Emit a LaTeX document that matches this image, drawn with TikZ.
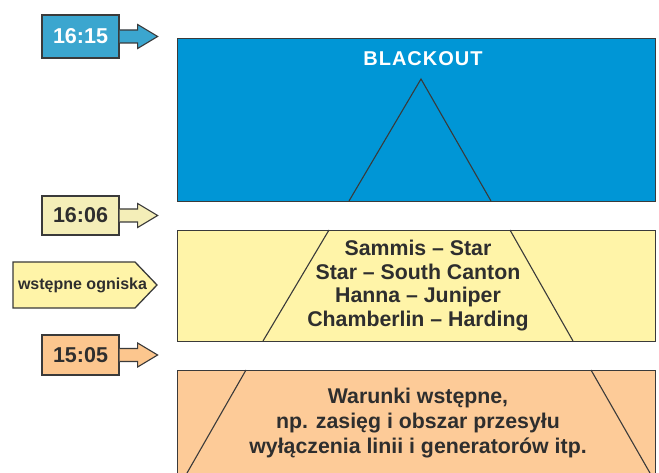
\documentclass[tikz,border=0pt]{standalone}
\usepackage{fontspec}
\setmainfont{Liberation Sans}
\usetikzlibrary{calc}
\definecolor{bigblue}{HTML}{0096D6}
\definecolor{lblblue}{HTML}{3BA6CF}
\definecolor{pyellow}{HTML}{FFF4A8}
\definecolor{lblkhaki}{HTML}{F4EEB8}
\definecolor{porange}{HTML}{FDCB98}
\definecolor{lblorange}{HTML}{FCC68E}
\definecolor{ink}{HTML}{2E2E2E}
\definecolor{edge}{HTML}{3A3A3A}
\tikzset{
  panel/.style={draw=edge, line width=1.3pt, anchor=north west, inner sep=0pt},
  lbl/.style={draw=edge, line width=1.3pt, minimum width=77pt, inner sep=0pt,
    font=\bfseries\fontsize{21.5}{24}\selectfont, text=ink},
  blockarrow/.style={draw=edge, line width=1.1pt, line join=miter},
  inner/.style={draw=edge, line width=1.1pt},
  paneltext/.style={align=center, text=ink, font=\bfseries\fontsize{21.3}{23.8}\selectfont, inner sep=0pt}
}
\newcommand{\blockarr}[2]{%
  \draw[blockarrow, fill=#2] ($(#1.east)+(0,-6.5)$) -- ++(18,0) -- ++(0,-5.5)
    -- ($(#1.east)+(38,0)$) -- ($(#1.east)+(18,12)$) -- ++(0,-5.5) -- ($(#1.east)+(0,6.5)$);}
\begin{document}
\begin{tikzpicture}[x=1pt, y=-1pt]
\useasboundingbox (0,0) rectangle (659,473);
\clip (0,0) rectangle (659,473);
% top panel
\node[panel, fill=bigblue, minimum width=478pt, minimum height=163pt] (blackout) at (177,38) {};
\draw[inner] (349,201) -- (421,79) -- (491,201);
\node[text=white, font=\bfseries\fontsize{20}{22}\selectfont\addfontfeature{LetterSpace=5}] (bt) at (423,59) {BLACKOUT};
% middle panel
\node[panel, fill=pyellow, minimum width=478pt, minimum height=111pt] (mid) at (177,230) {};
\draw[inner] (263,341) -- (329,230);
\draw[inner] (510,230) -- (573,341);
\node[paneltext] (midtext) at (418,285.5) {Sammis -- Star\\Star -- South Canton\\Hanna -- Juniper\\Chamberlin -- Harding};
% bottom panel
\node[panel, fill=porange, minimum width=478pt, minimum height=120pt] (low) at (177,370) {};
\draw[inner] (246,370) -- (183,480);
\draw[inner] (591,370) -- (654,480);
\node[paneltext, font=\bfseries\fontsize{21.3}{25}\selectfont] (lowtext) at (418,423) {Warunki wstępne,\\np. zasięg i obszar przesyłu\\wyłączenia linii i generatorów itp.};
% labels
\node[lbl, fill=lblblue, text=white, minimum height=43pt] (t1) at (80.5,36.5) {16:15};
\blockarr{t1}{lblblue}
\node[lbl, fill=lblkhaki, minimum height=39pt] (t2) at (80.5,215.5) {16:06};
\blockarr{t2}{lblkhaki}
\node[lbl, fill=lblorange, minimum height=40pt] (t3) at (80.5,355) {15:05};
\blockarr{t3}{lblorange}
\draw[draw=edge, line width=1.3pt, fill=pyellow] (13,262) -- (135,262) -- (157,285) -- (135,308) -- (13,308) -- cycle;
\node[text=ink, font=\bfseries\fontsize{16}{18}\selectfont, inner sep=0pt] (ogn) at (82.5,285) {wstępne ogniska};
\end{tikzpicture}
\end{document}
